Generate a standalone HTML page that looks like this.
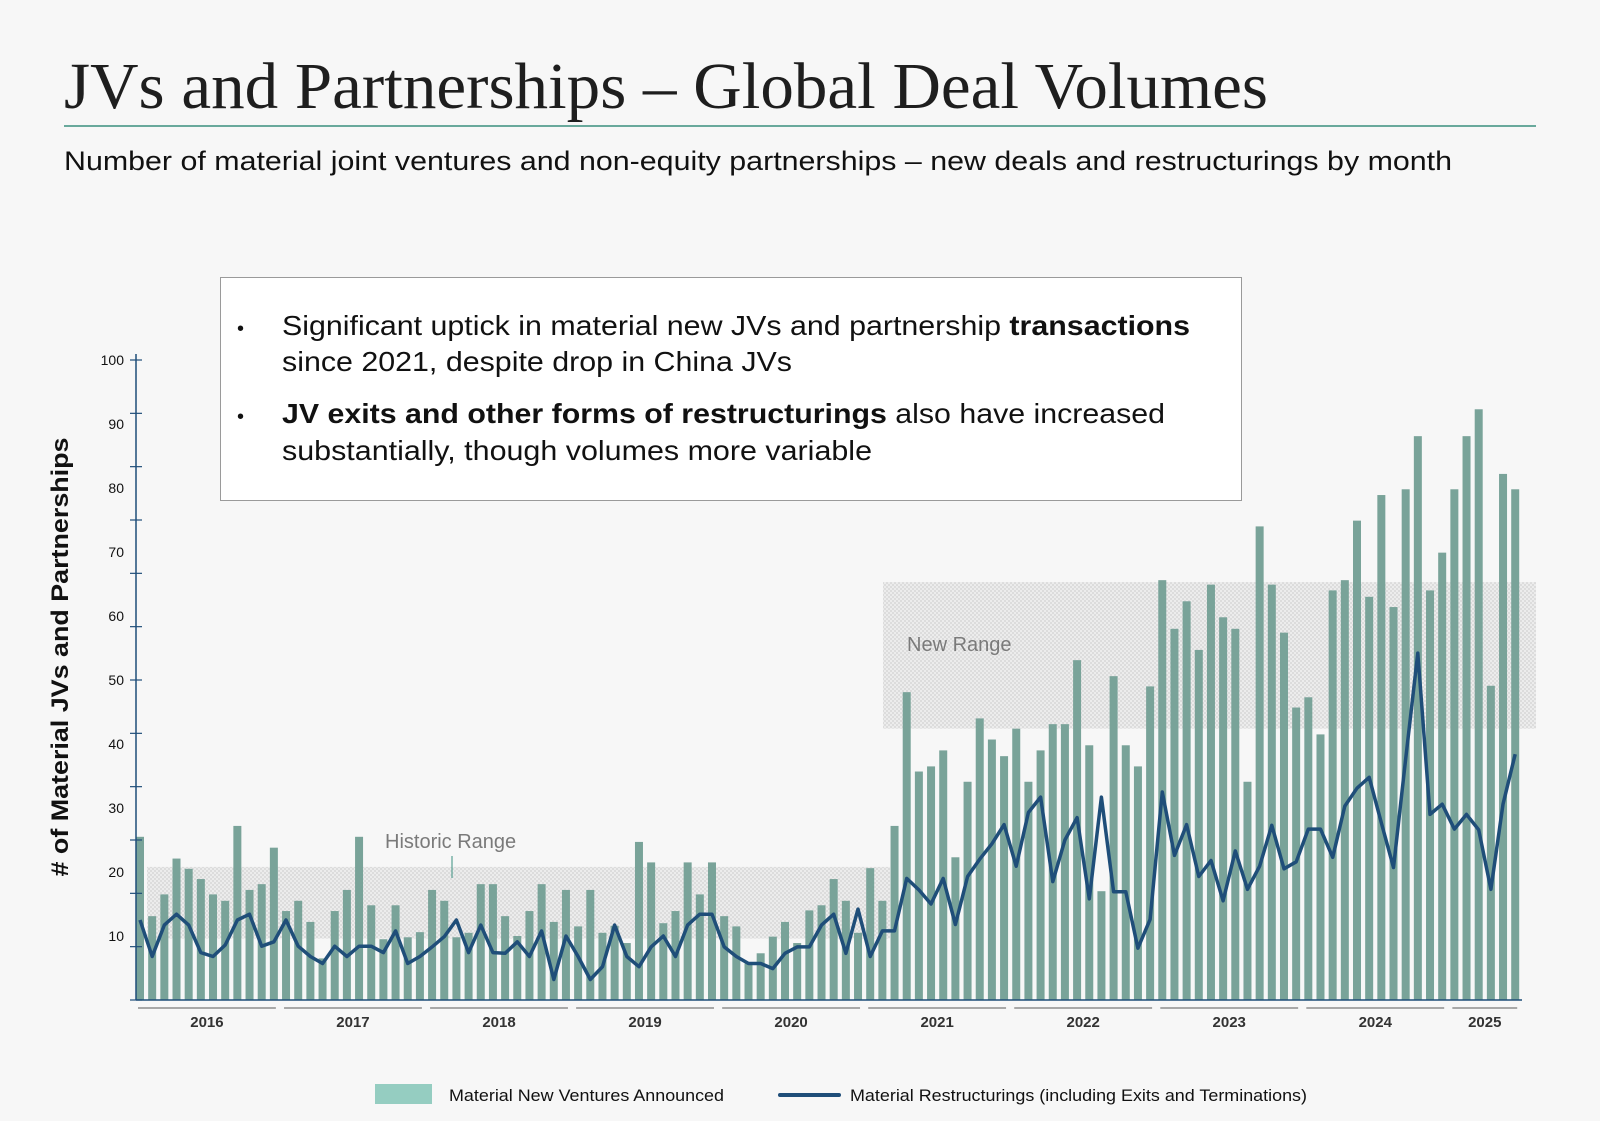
<!DOCTYPE html>
<html><head><meta charset="utf-8"><style>
html,body{margin:0;padding:0;background:#fff;}
svg{display:block;}
</style></head><body>
<svg id="chart" xmlns="http://www.w3.org/2000/svg" width="1600" height="1130" viewBox="0 0 1600 1130">
<defs>
<pattern id="dots" width="4" height="4" patternUnits="userSpaceOnUse">
<rect width="4" height="4" fill="#ececec"/>
<rect width="2" height="2" fill="#dcdcdc"/>
<rect x="2" y="2" width="2" height="2" fill="#dcdcdc"/>
</pattern>
</defs>
<rect x="0" y="0" width="1600" height="1121" fill="#f7f7f7"/>
<text x="64" y="108" font-family="Liberation Serif, serif" font-size="66" fill="#1e1e1e" textLength="1204" lengthAdjust="spacingAndGlyphs">JVs and Partnerships – Global Deal Volumes</text>
<line x1="64" y1="126" x2="1536" y2="126" stroke="#3a8f7f" stroke-width="1.5"/>
<text x="64" y="170" font-family="Liberation Sans, sans-serif" font-size="27" fill="#111" textLength="1388" lengthAdjust="spacingAndGlyphs">Number of material joint ventures and non-equity partnerships – new deals and restructurings by month</text>

<g id="ranges"></g>
<g id="bars"></g>
<g id="axes"></g>
<path id="line" fill="none" stroke="#1f4e79" stroke-width="3.5" stroke-linejoin="round"/>

<text x="385" y="848" font-family="Liberation Sans, sans-serif" font-size="20" fill="#7a7a7a">Historic Range</text>
<line x1="452" y1="856" x2="452" y2="878" stroke="#3a8f7f" stroke-width="1"/>
<text x="907" y="651" font-family="Liberation Sans, sans-serif" font-size="20" fill="#7a7a7a">New Range</text>

<g>
<rect x="220.5" y="277.5" width="1021" height="223" fill="#fff" stroke="#9a9a9a" stroke-width="1"/>
<g font-family="Liberation Sans, sans-serif" font-size="28" fill="#111">
<text x="237" y="335" font-size="20">•</text>
<text x="282" y="335" textLength="908" lengthAdjust="spacingAndGlyphs">Significant uptick in material new JVs and partnership <tspan font-weight="bold">transactions</tspan></text>
<text x="282" y="371" textLength="510" lengthAdjust="spacingAndGlyphs">since 2021, despite drop in China JVs</text>
<text x="237" y="423" font-size="20">•</text>
<text x="282" y="423" textLength="883" lengthAdjust="spacingAndGlyphs"><tspan font-weight="bold">JV exits and other forms of restructurings</tspan> also have increased</text>
<text x="282" y="460" textLength="590" lengthAdjust="spacingAndGlyphs">substantially, though volumes more variable</text>
</g>
</g>

<text transform="translate(68,657) rotate(-90)" text-anchor="middle" font-family="Liberation Sans, sans-serif" font-size="24" font-weight="bold" fill="#111" textLength="439" lengthAdjust="spacingAndGlyphs"># of Material JVs and Partnerships</text>

<g>
<rect x="375" y="1084" width="57" height="20" fill="#95cdc1"/>
<text x="449" y="1101" font-family="Liberation Sans, sans-serif" font-size="17" fill="#111" textLength="275" lengthAdjust="spacingAndGlyphs">Material New Ventures Announced</text>
<line x1="780" y1="1095" x2="839" y2="1095" stroke="#1f4e79" stroke-width="4" stroke-linecap="round"/>
<text x="850" y="1101" font-family="Liberation Sans, sans-serif" font-size="17" fill="#111" textLength="457" lengthAdjust="spacingAndGlyphs">Material Restructurings (including Exits and Terminations)</text>
</g>
</svg>
<script>
const years = ["2016","2017","2018","2019","2020","2021","2022","2023","2024","2025"];
const monthsPerYear = [12,12,12,12,12,12,12,12,12,6];
const newVentures = [
25.5,13.1,16.5,22.1,20.5,18.9,16.5,15.5,27.2,17.2,18.1,23.8,
13.9,15.5,12.2,6.5,13.9,17.2,25.5,14.8,9.5,14.8,9.8,10.6,
17.2,15.5,9.8,10.5,18.1,18.1,13.1,10,13.9,18.1,12.2,17.2,
11.5,17.2,10.5,11.6,8.9,24.7,21.5,12,13.9,21.5,16.5,21.5,
13.1,11.5,5.7,7.3,9.9,12.2,8.9,14,14.8,18.9,15.5,10.5,
20.6,15.5,27.2,48.1,35.7,36.5,39,22.3,34.1,44,40.7,38.1,
42.4,34.1,39,43.1,43.1,53.1,39.8,17,50.6,39.8,36.5,49,
65.6,58,62.3,54.7,64.9,59.8,58,34.1,74,64.9,57.4,45.7,
47.3,41.5,64,65.6,74.9,63,78.9,61.4,79.8,88.1,64,69.9,
79.8,88.1,92.3,49.1,82.2,79.8];
const restructurings = [
12.5,6.8,11.7,13.4,11.7,7.4,6.8,8.6,12.5,13.4,8.4,9.1,
12.5,8.4,6.8,5.7,8.4,6.8,8.4,8.4,7.4,10.8,5.7,6.8,
8.3,9.9,12.5,7.4,11.7,7.4,7.3,9.1,6.8,10.8,3.2,10,
6.8,3.2,5.2,11.7,6.8,5.2,8.3,10,6.8,11.7,13.4,13.4,
8.3,6.8,5.7,5.7,4.9,7.3,8.3,8.3,11.7,13.4,7.3,14.2,
6.8,10.8,10.8,19,17.2,15,19,11.8,19.3,22,24.4,27.4,
20.9,29.3,31.7,18.5,25,28.5,15.8,31.7,16.9,16.9,8.1,12.6,
32.5,22.6,27.4,19.3,21.8,15.5,23.3,17.3,20.9,27.3,20.5,21.6,
26.7,26.7,22.3,30.3,33.1,34.8,27.7,20.7,37.7,54.2,29,30.6,
26.7,29,26.6,17.3,30.6,38.4];
const yTickLabels = [10,20,30,40,50,60,70,80,90,100];
const historicRange = [9.6, 20.8];
const newRange = [42.4, 65.3];

const NS = "http://www.w3.org/2000/svg";
const X0 = 140, STEP = 12.17, Y0 = 1000, YTOP = 360, AXX = 136;
function xPos(i){ return X0 + i*STEP; }
function yPos(v){ return Y0 - v*(Y0-YTOP)/100; }
function mk(tag, attrs, parent){ const e=document.createElementNS(NS,tag); for(const k in attrs) e.setAttribute(k,attrs[k]); parent.appendChild(e); return e; }

const rg = document.getElementById('ranges');
let r = mk('rect',{x:147,y:yPos(historicRange[1]),width:890-147,height:yPos(historicRange[0])-yPos(historicRange[1]),fill:'url(#dots)'},rg);


r = mk('rect',{x:883,y:yPos(newRange[1]),width:1536-883,height:yPos(newRange[0])-yPos(newRange[1]),fill:'url(#dots)'},rg);



const bg = document.getElementById('bars');
newVentures.forEach((v,i)=>{
  const b = mk('rect',{x:xPos(i)-4,y:yPos(v),width:8,height:Y0-yPos(v),fill:'#79a399'},bg);
  
  
});

document.getElementById('line').setAttribute('d', restructurings.map((v,i)=>(i?'L':'M')+xPos(i).toFixed(1)+' '+yPos(v).toFixed(1)).join(' '));

const ax = document.getElementById('axes');
let a = mk('line',{x1:AXX,y1:YTOP-6,x2:AXX,y2:Y0,stroke:'#1f4e79','stroke-width':1.5},ax);


a = mk('line',{x1:AXX,y1:Y0,x2:1522,y2:Y0,stroke:'#1f4e79','stroke-width':1.5},ax);


for(let t=0;t<=12;t++){
  const yy = YTOP + t*(Y0-YTOP)/12;
  const tk = mk('line',{x1:AXX-6,y1:yy,x2:AXX+6,y2:yy,stroke:'#1f4e79','stroke-width':1.2},ax);
  
  
}
yTickLabels.forEach(v=>{
  const t = mk('text',{x:124,y:yPos(v)+5,'text-anchor':'end','font-family':'Liberation Sans, sans-serif','font-size':14,fill:'#111'},ax);
  t.textContent = v;
  
  
});
let start = 0;
years.forEach((yr,j)=>{
  const n = monthsPerYear[j];
  const x1 = xPos(start)-4, x2 = xPos(start+n-1)+4;
  const br = mk('line',{x1:x1+2,y1:1008,x2:x2-2,y2:1008,stroke:'#a8a8a8','stroke-width':2},ax);
  
  
  const t = mk('text',{x:(xPos(start)+xPos(start+n-1))/2,y:1027,'text-anchor':'middle','font-family':'Liberation Sans, sans-serif','font-size':15,'font-weight':'bold',fill:'#333'},ax);
  t.textContent = yr;
  
  
  start += n;
});
</script>
</body></html>
